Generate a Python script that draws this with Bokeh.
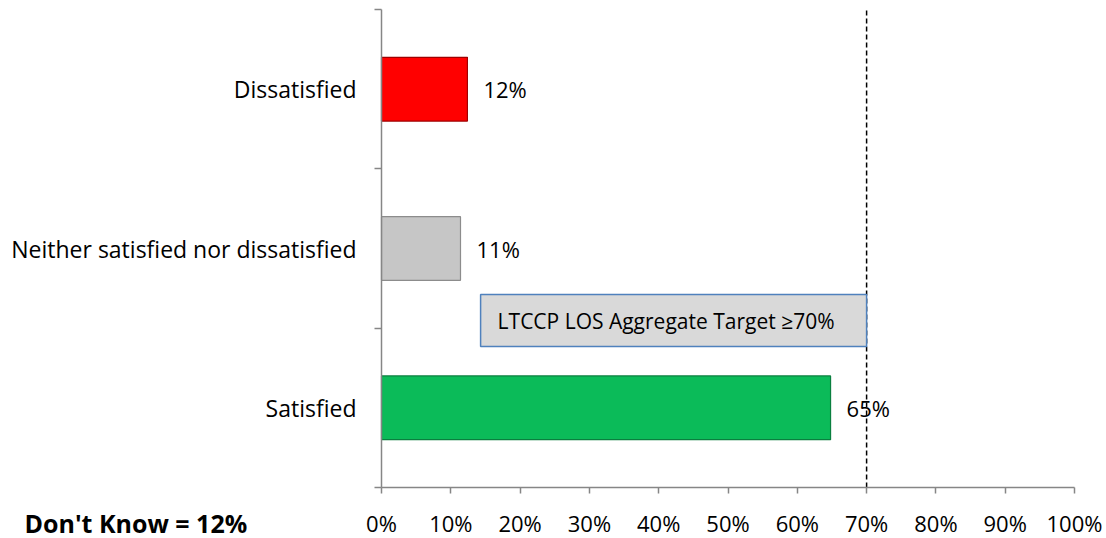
from bokeh.plotting import figure
from bokeh.models import Range1d, FixedTicker, BoxAnnotation, Label, ColumnDataSource
from bokeh.core.properties import value
from bokeh.embed import file_html
from bokeh.resources import INLINE

# ---- data ----
categories = ["Satisfied", "Neither satisfied nor dissatisfied", "Dissatisfied"]
percent_values = [64.8, 11.4, 12.4]
percent_labels = ["65%", "11%", "12%"]
bar_colors = ["#0bbb59", "#c6c6c6", "#ff0000"]
bar_edges = ["#0a7f3f", "#8c8c8c", "#a00000"]
x_ticks = [0, 10, 20, 30, 40, 50, 60, 70, 80, 90, 100]
x_tick_labels = ["0%", "10%", "20%", "30%", "40%", "50%", "60%", "70%", "80%", "90%", "100%"]
target_value = 70
target_text = "LTCCP LOS Aggregate Target \u226570%"
dont_know_text = "Don't Know = 12%"

FONT = "Open Sans"
W, H = 1106, 538
# plot area placement (pixels) -- axes drawn at fixed locations inside a full-canvas frame
AX_LEFT, AX_RIGHT, AX_TOP, AX_BOTTOM = 381, 1074, 9, 487
X_MAX = x_ticks[-1]
N = len(categories)
px_x = (AX_RIGHT - AX_LEFT) / X_MAX
px_y = (AX_BOTTOM - AX_TOP) / N

y_centers = [i + 0.5 for i in range(N)]
src = ColumnDataSource(dict(y=y_centers, v=percent_values, lab=percent_labels,
                            fill=bar_colors, edge=bar_edges))

p = figure(width=W, height=H, output_backend="svg", toolbar_location=None,
           x_range=Range1d(-AX_LEFT / px_x, (W - AX_LEFT) / px_x),
           y_range=Range1d(-(H - AX_BOTTOM) / px_y, N + AX_TOP / px_y),
           min_border=0)
p.outline_line_color = None
p.xgrid.visible = False
p.ygrid.visible = False

p.hbar(y="y", left=0, right="v", height=0.40, fill_color="fill", line_color="edge",
       line_width=1.2, source=src)

p.text(x="v", y="y", text="lab", x_offset=16, text_baseline="middle", text_align="left",
       text_font=value(FONT), text_font_size="22px", text_color="#000000", source=src)

box = BoxAnnotation(left=14.3, right=target_value, bottom=0.885, top=1.211,
                    fill_color="#d9d9d9", fill_alpha=1.0, line_color="#4f81bd",
                    line_alpha=1.0, line_width=1.5)
p.add_layout(box)
p.add_layout(Label(x=14.3, y=1.048, text=target_text, x_offset=17, text_baseline="middle",
                   text_font=FONT, text_font_size="21px", text_color="#000000"))

p.segment(x0=[target_value], y0=[0], x1=[target_value], y1=[N], line_color="black",
          line_dash="5 3", line_width=1.5)

p.add_layout(Label(x=-(AX_LEFT - 24) / px_x, y=-35 / px_y, text=dont_know_text,
                   text_baseline="middle", text_font=FONT, text_font_size="25px",
                   text_font_style="bold", text_color="#000000"))

xa = p.xaxis[0]
xa.fixed_location = 0
xa.bounds = (0, X_MAX)
xa.ticker = FixedTicker(ticks=x_ticks, minor_ticks=[])
xa.major_label_overrides = {t: l for t, l in zip(x_ticks, x_tick_labels)}
xa.major_tick_out = 6
xa.major_tick_in = 0
xa.axis_line_color = "#868686"
xa.major_tick_line_color = "#868686"
xa.axis_line_width = 1.5
xa.major_tick_line_width = 1.5
xa.major_label_text_font = FONT
xa.major_label_text_font_size = "22px"
xa.major_label_text_color = "#000000"
xa.major_label_standoff = 14

ya = p.yaxis[0]
ya.fixed_location = 0
ya.bounds = (0, N)
ya.ticker = FixedTicker(ticks=y_centers, minor_ticks=list(range(N + 1)))
ya.major_label_overrides = {c: n for c, n in zip(y_centers, categories)}
ya.major_tick_out = 0
ya.major_tick_in = 0
ya.minor_tick_out = 7
ya.minor_tick_in = 0
ya.axis_line_color = "#868686"
ya.minor_tick_line_color = "#868686"
ya.axis_line_width = 1.5
ya.minor_tick_line_width = 1.5
ya.major_label_text_font = FONT
ya.major_label_text_font_size = "23px"
ya.major_label_text_color = "#000000"
ya.major_label_standoff = 18

open("out.html", "w").write(file_html(p, INLINE))
